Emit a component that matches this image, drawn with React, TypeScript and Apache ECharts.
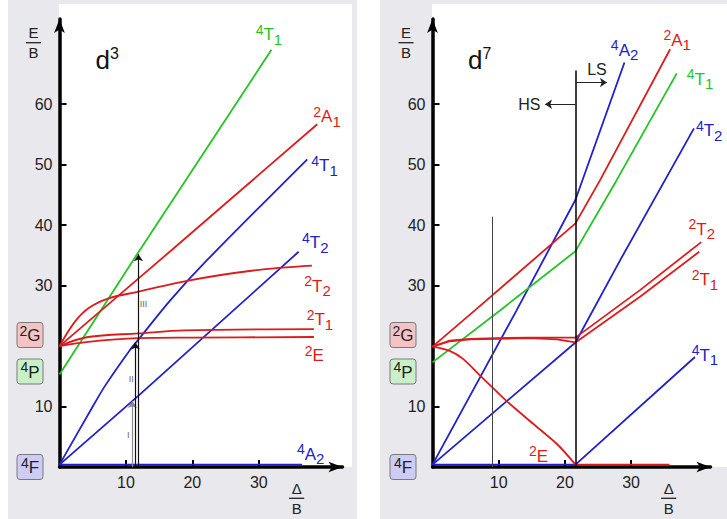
import React, { useEffect, useRef } from 'react';
import * as echarts from 'echarts';

// ---------------- tick values ----------------
const X_TICKS = [10, 20, 30];
const Y_TICKS = [10, 30, 40, 50, 60];

// ---------------- d3 panel (Δ/B, E/B) ----------------
const d3_4T1P = [[0, 15.3], [12.1, 35.9], [31.9, 69.0]];
const d3_2A1 = [[0, 20.0], [16.9, 35.9], [38.8, 56.7]];
const d3_4T1F = [[0, 0.4], [4.9, 9.8], [6.9, 13.5], [10.5, 19.2], [11.9, 21.1], [16.7, 27.6], [22.2, 34.2], [37.3, 50.9]];
const d3_4T2 = [[0, 0.4], [11.9, 11.8], [36.0, 35.6]];
const d3_2T2 = [[0, 20.0], [2.3, 24.0], [4.4, 26.3], [7.4, 27.9], [11.9, 29.0], [19.2, 30.8], [29.2, 32.5], [38.0, 33.3]];
const d3_2T1 = [[0, 20.0], [4.3, 21.5], [11.9, 22.1], [18.9, 22.6], [38.3, 22.8]];
const d3_2E = [[0, 20.0], [4.3, 20.7], [11.9, 21.3], [20.0, 21.4], [38.3, 21.5]];
const d3_4A2 = [[0, 0.4], [36.5, 0.4]];
const d3_transX = [10.98, 11.43, 11.89];
const d3_transTop = [10.9, 20.6, 35.2];
const d3_transNames = ['I', 'II', 'III'];
const d3_transLabelY = [5.3, 14.6, 26.9];

// ---------------- d7 panel ----------------
const d7_4A2 = [[0, 0.4], [12.7, 25.9], [21.6, 44.2], [29.0, 66.9]];
const d7_2A1 = [[0, 19.9], [6.4, 25.9], [21.6, 40.3], [25.3, 47.4], [35.9, 69.1]];
const d7_4T1P = [[0, 17.3], [10.45, 26.1], [21.6, 35.7], [27.8, 47.4], [36.9, 65.1]];
const d7_4T2 = [[0, 0.4], [21.6, 20.6], [28.4, 34.3], [39.5, 56.0]];
const d7_2T2 = [[0, 19.9], [2.6, 20.9], [5.7, 21.2], [9.7, 21.3], [14.7, 21.4], [18.8, 21.4], [21.6, 21.4], [31.4, 29.3], [40.6, 37.2]];
const d7_2T1 = [[0, 19.9], [2.6, 20.8], [5.7, 21.1], [9.7, 21.2], [14.7, 21.3], [18.8, 21.1], [21.6, 20.6], [31.4, 28.2], [40.3, 35.6]];
const d7_4T1F = [[0, 0.4], [21.6, 0.4], [39.65, 18.2]];
const d7_2E = [[0, 19.9], [2.6, 19.2], [4.7, 17.8], [7.2, 15.1], [9.0, 13.2], [11.2, 10.9], [14.7, 7.6], [18.8, 3.8], [21.6, 0.4]];
const d7_2Eflat = [[21.6, 0.4], [35.8, 0.4]];
const d7_crossX = 21.6;
const d7_crossTop = 65.6;
const d7_markX = 9.04;
const d7_markTop = 41.4;
const d7_HSarrow = [[21.6, 60.0], [17.0, 60.0]];
const d7_LSarrow = [[21.6, 63.6], [26.35, 63.6]];

// ---------------- styles ----------------
const RED = '#dc1c1c';
const BLUE = '#2121cc';
const GREEN = '#24c424';
const GRAY = '#e9e8ec';
const FONT = '"Liberation Sans", Arial, Helvetica, sans-serif';

function lineSeries(data: number[][], color: string, g: number, smooth: number | boolean, extra: any = {}) {
  return {
    type: 'line', data, xAxisIndex: g, yAxisIndex: g, symbol: 'none', showSymbol: false,
    smooth, silent: true, z: 3,
    lineStyle: { color, width: 1.8 }, itemStyle: { color }, ...extra,
  };
}

function axesFor(g: number, xMax: number, yMax: number) {
  const axisLine = {
    show: true, onZero: false, symbol: ['none', 'arrow'], symbolSize: [8, 14],
    lineStyle: { color: '#000', width: 3.5 },
  };
  const tick = { show: true, inside: true, length: 7, lineStyle: { color: '#000', width: 2 } };
  const lab = { show: true, margin: 7, fontSize: 16, color: '#222', fontFamily: FONT };
  return {
    x: {
      type: 'value', gridIndex: g, min: 0, max: xMax, interval: 10,
      axisLine, axisTick: { ...tick, customValues: X_TICKS },
      axisLabel: { ...lab, customValues: X_TICKS }, splitLine: { show: false },
    },
    y: {
      type: 'value', gridIndex: g, min: 0, max: yMax, interval: 10,
      axisLine, axisTick: { ...tick, customValues: Y_TICKS },
      axisLabel: { ...lab, customValues: Y_TICKS }, splitLine: { show: false },
    },
  };
}

// curve labels: [grid, data, sup, main, sub, color, dx, dy]
const LABELS: [number, number[][], string, string, string, string, number, number][] = [
  [0, d3_4T1P, '4', 'T', '1', GREEN, -15.7, -15],
  [0, d3_2A1, '2', 'A', '1', RED, -4, -7.3],
  [0, d3_4T1F, '4', 'T', '1', BLUE, 4, 6.5],
  [0, d3_4T2, '4', 'T', '2', BLUE, 3.4, -9],
  [0, d3_2T2, '2', 'T', '2', RED, -7.7, 20.6],
  [0, d3_2T1, '2', 'T', '1', RED, -7.3, -9.3],
  [0, d3_2E, '2', 'E', '', RED, -9.3, 18.5],
  [0, d3_4A2, '4', 'A', '2', BLUE, -5, -10.4],
  [1, d7_4A2, '4', 'A', '2', BLUE, -13.6, -12.3],
  [1, d7_2A1, '2', 'A', '1', RED, -6.7, -8.8],
  [1, d7_4T1P, '4', 'T', '1', GREEN, 10, 5.8],
  [1, d7_4T2, '4', 'T', '2', BLUE, 2, 2.5],
  [1, d7_2T2, '2', 'T', '2', RED, -12.7, -12.6],
  [1, d7_2T1, '2', 'T', '1', RED, -7.6, 28],
  [1, d7_4T1F, '4', 'T', '1', BLUE, -3.3, -1.7],
  [1, d7_2E, '2', 'E', '', RED, -46.5, -8.3],
];

const TERM_RICH = {
  a: { fontSize: 14, fontFamily: FONT, verticalAlign: 'top', lineHeight: 6 },
  b: { fontSize: 17, fontFamily: FONT, lineHeight: 24 },
  c: { fontSize: 15, fontFamily: FONT, verticalAlign: 'bottom', lineHeight: 20 },
};

function termText(sup: string, main: string, sub: string) {
  return `{a|${sup}}{b|${main}}` + (sub ? `{c|${sub}}` : '');
}

function markLines(items: any[]) {
  return {
    silent: true, animation: false, symbol: ['none', 'arrow'], symbolSize: 7,
    label: { show: false }, emphasis: { disabled: true },
    data: items,
  };
}

export default function App() {
  const ref = useRef<HTMLDivElement>(null);
  useEffect(() => {
    document.body.style.margin = '0';
    const chart = echarts.init(ref.current!, null, { renderer: 'svg' });
    const a0 = axesFor(0, 42.6, 74.1);
    const a1 = axesFor(1, 42.0, 74.1);

    const d3Marks = markLines(d3_transX.map((x, i) => [
      { coord: [x, 0], lineStyle: { color: i === 0 ? '#8a8a8a' : '#111', width: 1.2, type: 'solid' } },
      { coord: [x, d3_transTop[i]] },
    ]));
    const d7Marks = markLines([
      [{ coord: [d7_crossX, 0], symbol: 'none', lineStyle: { color: '#000', width: 1.5, type: 'solid' } }, { coord: [d7_crossX, d7_crossTop], symbol: 'none' }],
      [{ coord: [d7_markX, 0], symbol: 'none', lineStyle: { color: '#444', width: 1, type: 'solid' } }, { coord: [d7_markX, d7_markTop], symbol: 'none' }],
      [{ coord: d7_HSarrow[0], lineStyle: { color: '#222', width: 1, type: 'solid' } }, { coord: d7_HSarrow[1] }],
      [{ coord: d7_LSarrow[0], lineStyle: { color: '#222', width: 1, type: 'solid' } }, { coord: d7_LSarrow[1] }],
    ]);

    chart.setOption({
      animation: false,
      backgroundColor: 'transparent',
      grid: [
        { left: 59.5, top: 19, width: 283, height: 448, containLabel: false, outerBoundsMode: 'none' },
        { left: 432.5, top: 19, width: 278, height: 448, containLabel: false, outerBoundsMode: 'none' },
      ],
      xAxis: [a0.x, a1.x],
      yAxis: [a0.y, a1.y],
      series: [
        lineSeries(d3_4T1P, GREEN, 0, false),
        lineSeries(d3_2A1, RED, 0, 0.3),
        lineSeries(d3_4T1F, BLUE, 0, 0.3),
        lineSeries(d3_4T2, BLUE, 0, false),
        lineSeries(d3_2T2, RED, 0, 0.35),
        lineSeries(d3_2T1, RED, 0, 0.35),
        lineSeries(d3_2E, RED, 0, 0.35),
        lineSeries(d3_4A2, BLUE, 0, false, { markLine: d3Marks }),
        lineSeries(d7_4A2, BLUE, 1, false),
        lineSeries(d7_2A1, RED, 1, false),
        lineSeries(d7_4T1P, GREEN, 1, false),
        lineSeries(d7_4T2, BLUE, 1, false),
        lineSeries(d7_2T2, RED, 1, false),
        lineSeries(d7_2T1, RED, 1, false),
        lineSeries(d7_4T1F, BLUE, 1, false, { markLine: d7Marks }),
        lineSeries(d7_2E, RED, 1, 0.3),
        lineSeries(d7_2Eflat, RED, 1, false),
      ],
    });

    const px = (g: number, p: number[]) => chart.convertToPixel({ gridIndex: g }, p) as number[];
    const els: any[] = [];

    // curve labels
    LABELS.forEach(([g, data, sup, main, sub, color, dx, dy]) => {
      const end = px(g, data[data.length - 1]);
      els.push({
        type: 'text', x: end[0] + dx, y: end[1] + dy, z: 20, silent: true,
        style: { text: termText(sup, main, sub), rich: TERM_RICH, fill: color, align: 'left', verticalAlign: 'middle', fontFamily: FONT },
      });
    });

    // transition labels (I, II, III)
    d3_transNames.forEach((n, i) => {
      const p = px(0, [d3_transX[i], d3_transLabelY[i]]);
      els.push({
        type: 'text', x: p[0] + (i === 2 ? 5 : -4.3), y: p[1], z: 20, silent: true,
        style: { text: n, fill: '#666', fontSize: 9, fontFamily: FONT, align: 'center', verticalAlign: 'middle' },
      });
    });

    // HS / LS labels
    const hs = px(1, d7_HSarrow[1]);
    els.push({ type: 'text', x: hs[0] - 4.5, y: hs[1], z: 20, silent: true,
      style: { text: 'HS', fill: '#222', fontSize: 16, fontFamily: FONT, align: 'right', verticalAlign: 'middle' } });
    const ls = px(1, d7_LSarrow[1]);
    els.push({ type: 'text', x: ls[0] - 10, y: ls[1] - 12.5, z: 20, silent: true,
      style: { text: 'LS', fill: '#222', fontSize: 16, fontFamily: FONT, align: 'center', verticalAlign: 'middle' } });

    // panel titles d3 / d7
    const TITLE_RICH = {
      d: { fontSize: 26, fontFamily: FONT, lineHeight: 30 },
      s: { fontSize: 16, fontFamily: FONT, verticalAlign: 'top', lineHeight: 12 },
    };
    [[95.5, '3'], [468, '7']].forEach(([x, n]) => {
      els.push({ type: 'text', x, y: 60, z: 20, silent: true,
        style: { text: `{d|d}{s|${n}}`, rich: TITLE_RICH, fill: '#111', align: 'left', verticalAlign: 'middle' } });
    });

    // axis titles E/B and Δ/B
    const frac = (cx: number, cy: number, top: string) => {
      els.push({ type: 'text', x: cx, y: cy - 10, z: 20, silent: true,
        style: { text: top, fill: '#222', fontSize: 15, fontFamily: FONT, align: 'center', verticalAlign: 'middle' } });
      els.push({ type: 'line', z: 20, silent: true, shape: { x1: cx - 7.5, y1: cy, x2: cx + 7.5, y2: cy },
        style: { stroke: '#222', lineWidth: 1.3 } });
      els.push({ type: 'text', x: cx, y: cy + 10, z: 20, silent: true,
        style: { text: 'B', fill: '#222', fontSize: 15, fontFamily: FONT, align: 'center', verticalAlign: 'middle' } });
    };
    frac(33.5, 42.7, 'E');
    frac(406, 42.7, 'E');
    frac(296.7, 498.3, 'Δ');
    frac(668.7, 498.3, 'Δ');

    // free-ion term boxes
    const BOX_RICH = {
      a: { fontSize: 14, fontFamily: FONT, verticalAlign: 'top', lineHeight: 9 },
      b: { fontSize: 17, fontFamily: FONT, lineHeight: 24 },
    };
    const boxes: [string, string, string, number][] = [
      ['2', 'G', '#f4c4c4', 335],
      ['4', 'P', '#c9f0c9', 371.5],
      ['4', 'F', '#ccccf4', 467],
    ];
    [30, 403].forEach((cx) => {
      boxes.forEach(([s, m, fill, cy]) => {
        els.push({ type: 'rect', z: 20, silent: true, shape: { x: cx - 13, y: cy - 12.5, width: 26, height: 25, r: 3 },
          style: { fill, stroke: '#7a7a7a', lineWidth: 1 } });
        els.push({ type: 'text', x: cx, y: cy + 0.5, z: 21, silent: true,
          style: { text: `{a|${s}}{b|${m}}`, rich: BOX_RICH, fill: '#222', align: 'center', verticalAlign: 'middle' } });
      });
    });

    chart.setOption({ graphic: { elements: els } });
    return () => chart.dispose();
  }, []);

  return (
    <div style={{ position: 'relative', width: 727, height: 519, background: '#fff', overflow: 'hidden' }}>
      <div style={{ position: 'absolute', left: 8, top: 0, width: 349, height: 519, background: GRAY }} />
      <div style={{ position: 'absolute', left: 59, top: 4, width: 293, height: 463, background: '#fff' }} />
      <div style={{ position: 'absolute', left: 380, top: 0, width: 347, height: 519, background: GRAY }} />
      <div style={{ position: 'absolute', left: 432, top: 4, width: 295, height: 463, background: '#fff' }} />
      <div ref={ref} style={{ position: 'absolute', left: 0, top: 0, width: 727, height: 519 }} />
    </div>
  );
}
